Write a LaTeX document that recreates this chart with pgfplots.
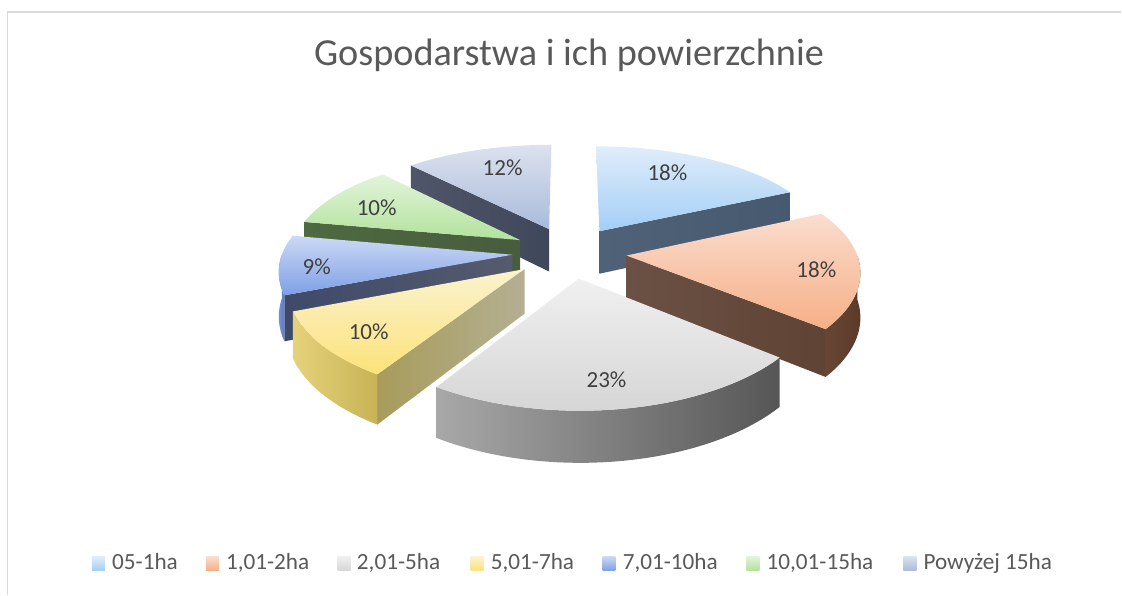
\documentclass[border=0pt]{standalone}
\usepackage{pgfplots}
\pgfplotsset{compat=1.18}
\usepackage{fontspec}
\setmainfont{Carlito}

% ---------- data (percent) ----------
\def\vA{18}% 05-1ha
\def\vB{18}% 1,01-2ha
\def\vC{23}% 2,01-5ha
\def\vD{10}% 5,01-7ha
\def\vE{9}%  7,01-10ha
\def\vF{10}% 10,01-15ha
\def\vG{12}% Powyzej 15ha

% ---------- colours ----------
\definecolor{topA1}{HTML}{E0EDFA}\definecolor{topA2}{HTML}{A3CEF6}
\definecolor{topB1}{HTML}{FADDCF}\definecolor{topB2}{HTML}{F6AF86}
\definecolor{topC1}{HTML}{F0F0F0}\definecolor{topC2}{HTML}{D6D6D6}
\definecolor{topD1}{HTML}{FBF3CF}\definecolor{topD2}{HTML}{FCE27A}
\definecolor{topE1}{HTML}{CCD9F5}\definecolor{topE2}{HTML}{7E9FE6}
\definecolor{topF1}{HTML}{E2F4DA}\definecolor{topF2}{HTML}{B2E29C}
\definecolor{topG1}{HTML}{DCE2EE}\definecolor{topG2}{HTML}{A9BADB}
\definecolor{sideA1}{HTML}{4F6278}\definecolor{sideA2}{HTML}{46596F}
\definecolor{sideB1}{HTML}{6B5145}\definecolor{sideB2}{HTML}{5F4334}
\definecolor{wallB1}{HTML}{664634}\definecolor{wallB2}{HTML}{5C3A29}
\definecolor{wallC1}{HTML}{A8A8A8}\definecolor{wallC2}{HTML}{565656}
\definecolor{sideD1}{HTML}{A89C5B}\definecolor{sideD2}{HTML}{B4AF93}
\definecolor{wallD1}{HTML}{E5D27A}\definecolor{wallD2}{HTML}{C8B356}
\definecolor{sideE1}{HTML}{3F4A6A}\definecolor{sideE2}{HTML}{555B6E}
\definecolor{wallE1}{HTML}{7090D8}\definecolor{wallE2}{HTML}{5A7BC8}
\definecolor{sideF1}{HTML}{4E6A40}\definecolor{sideF2}{HTML}{485C3E}
\definecolor{sideG1}{HTML}{50566A}\definecolor{sideG2}{HTML}{3F475A}
\definecolor{labtext}{HTML}{404040}
\definecolor{legtext}{HTML}{595959}
\definecolor{frame}{HTML}{D9D9D9}

% ---------- slice angles from the data ----------
\newcommand\setslice[3]{%
  \pgfmathsetmacro\tmpa{#2}%
  \pgfmathsetmacro\tmpb{#2-3.6*#3}%
  \pgfmathsetmacro\tmpm{(\tmpa+\tmpb)/2}%
  \expandafter\xdef\csname ps#1\endcsname{\tmpa}%
  \expandafter\xdef\csname pe#1\endcsname{\tmpb}%
  \pgfmathsetmacro\tmp{0.249*cos(\tmpm)}\expandafter\xdef\csname pu#1\endcsname{\tmp}%
  \pgfmathsetmacro\tmp{0.249*sin(\tmpm)}\expandafter\xdef\csname pv#1\endcsname{\tmp}%
}
\setslice{A}{90}{\vA}
\setslice{B}{\peA}{\vB}
\setslice{C}{\peB}{\vC}
\setslice{D}{\peC}{\vD}
\setslice{E}{\peD}{\vE}
\setslice{F}{\peE}{\vF}
\setslice{G}{\peF}{\vG}

% top face: #1 start angle, #2 end angle, #3 eu, #4 ev, #5 options
\newcommand\topface[5]{%
  \shade[#5] (axis cs:{PX(#3,#4)},{PYT(#4)})
    \foreach \i in {0,...,36} { -- (axis cs:{RX(#3,#4,ang(#1,#2,\i))},{RYT(#4,ang(#1,#2,\i))}) }
    -- cycle;}
% outer wall between #1 and #2
\newcommand\wall[5]{%
  \shade[#5] (axis cs:{RX(#3,#4,#1)},{RYT(#4,#1)})
    \foreach \i in {0,...,36} { -- (axis cs:{RX(#3,#4,ang(#1,#2,\i))},{RYT(#4,ang(#1,#2,\i))}) }
    \foreach \i in {0,...,36} { -- (axis cs:{RX(#3,#4,ang(#2,#1,\i))},{RYB(#4,ang(#2,#1,\i))}) }
    -- cycle;}
% radial cut face at angle #1
\newcommand\radial[4]{%
  \shade[#4] (axis cs:{PX(#2,#3)},{PYT(#3)}) -- (axis cs:{RX(#2,#3,#1)},{RYT(#3,#1)})
    -- (axis cs:{RX(#2,#3,#1)},{RYB(#3,#1)}) -- (axis cs:{PX(#2,#3)},{PYB(#3)}) -- cycle;}

\newcommand\legitem[6]{% marker x, text x, colour1, colour2, text
  \shade[top color=#3, bottom color=#4] (axis cs:#1,24) rectangle (axis cs:#1+13,38);
  \node[anchor=base west, inner sep=0pt, text=legtext, font=\legfont] at (axis cs:#2,25) {#5};}
\newcommand\legfont{\fontsize{17.4}{20}\selectfont}
\newcommand\labfont{\fontsize{17.3}{20}\selectfont}

\begin{document}
\begin{tikzpicture}[declare function={
  sxf(\vv)=1/(1+0.13*\vv);
  syf(\vv)=1/(1+0.15*\vv);
  PX(\uu,\vv)=570+230*\uu*sxf(\vv);
  PYT(\vv)=342.5+103.5*\vv*syf(\vv);
  PYB(\vv)=PYT(\vv)-43.7*sxf(\vv);
  ang(\aa,\bb,\kk)=\aa+(\bb-\aa)*\kk/36;
  RX(\uu,\vv,\tt)=PX(\uu+cos(\tt),\vv+sin(\tt));
  RYT(\vv,\tt)=PYT(\vv+sin(\tt));
  RYB(\vv,\tt)=PYB(\vv+sin(\tt));
}]
\begin{axis}[
  x=0.75pt, y=0.75pt,
  xmin=0, xmax=1122, ymin=0, ymax=595,
  hide axis, clip=false,
  at={(0,0)}, anchor=origin,
]
% background and frame
\fill[white] (axis cs:0,0) rectangle (axis cs:1122,595);
\draw[frame, line width=1.4pt] (axis cs:7.5,0) -- (axis cs:7.5,583) -- (axis cs:1122,583);

% title
\node[anchor=base, text=legtext, font=\fontsize{28.7}{34}\selectfont] at (axis cs:569.5,529) {Gospodarstwa i ich powierzchnie};

% ----- slices, back to front -----
% G: Powyzej 15ha
\radial{\psG}{\puG}{\pvG}{left color=sideG1, right color=sideG2}
\topface{\psG}{\peG}{\puG}{\pvG}{top color=topG1, bottom color=topG2}
% A: 05-1ha
\radial{\peA}{\puA}{\pvA}{left color=sideA1, right color=sideA2}
\topface{\psA}{\peA}{\puA}{\pvA}{top color=topA1, bottom color=topA2}
% F: 10,01-15ha
\radial{\psF}{\puF}{\pvF}{left color=sideF1, right color=sideF2}
\topface{\psF}{\peF}{\puF}{\pvF}{top color=topF1, bottom color=topF2}
% E: 7,01-10ha
\radial{\psE}{\puE}{\pvE}{left color=sideE1, right color=sideE2}
\wall{\psE}{-180}{\puE}{\pvE}{left color=wallE1, right color=wallE2}
\topface{\psE}{\peE}{\puE}{\pvE}{top color=topE1, bottom color=topE2}
% B: 1,01-2ha
\radial{\peB}{\puB}{\pvB}{left color=sideB1, right color=sideB2}
\wall{\peB}{0}{\puB}{\pvB}{left color=wallB1, right color=wallB2}
\topface{\psB}{\peB}{\puB}{\pvB}{top color=topB1, bottom color=topB2}
% D: 5,01-7ha
\radial{\psD}{\puD}{\pvD}{left color=sideD1, right color=sideD2}
\wall{\psD}{\peD}{\puD}{\pvD}{left color=wallD1, right color=wallD2}
\topface{\psD}{\peD}{\puD}{\pvD}{top color=topD1, bottom color=topD2}
% C: 2,01-5ha
\wall{\psC}{\peC}{\puC}{\pvC}{left color=wallC1, right color=wallC2}
\topface{\psC}{\peC}{\puC}{\pvC}{top color=topC1, bottom color=topC2}

% data labels
\node[text=labtext, font=\labfont] at (axis cs:668,422) {18\%};
\node[text=labtext, font=\labfont] at (axis cs:817,325) {18\%};
\node[text=labtext, font=\labfont] at (axis cs:607,215) {23\%};
\node[text=labtext, font=\labfont] at (axis cs:369,263) {10\%};
\node[text=labtext, font=\labfont] at (axis cs:317,328) {9\%};
\node[text=labtext, font=\labfont] at (axis cs:377,387) {10\%};
\node[text=labtext, font=\labfont] at (axis cs:503,427) {12\%};

% legend
\legitem{92}{112}{topA1}{topA2}{05-1ha}{}
\legitem{206}{226}{topB1}{topB2}{1,01-2ha}{}
\legitem{338}{357}{topC1}{topC2}{2,01-5ha}{}
\legitem{471}{491}{topD1}{topD2}{5,01-7ha}{}
\legitem{603}{623}{topE1}{topE2}{7,01-10ha}{}
\legitem{747}{767}{topF1}{topF2}{10,01-15ha}{}
\legitem{904}{924}{topG1}{topG2}{Powyżej 15ha}{}
\end{axis}
\end{tikzpicture}
\end{document}
